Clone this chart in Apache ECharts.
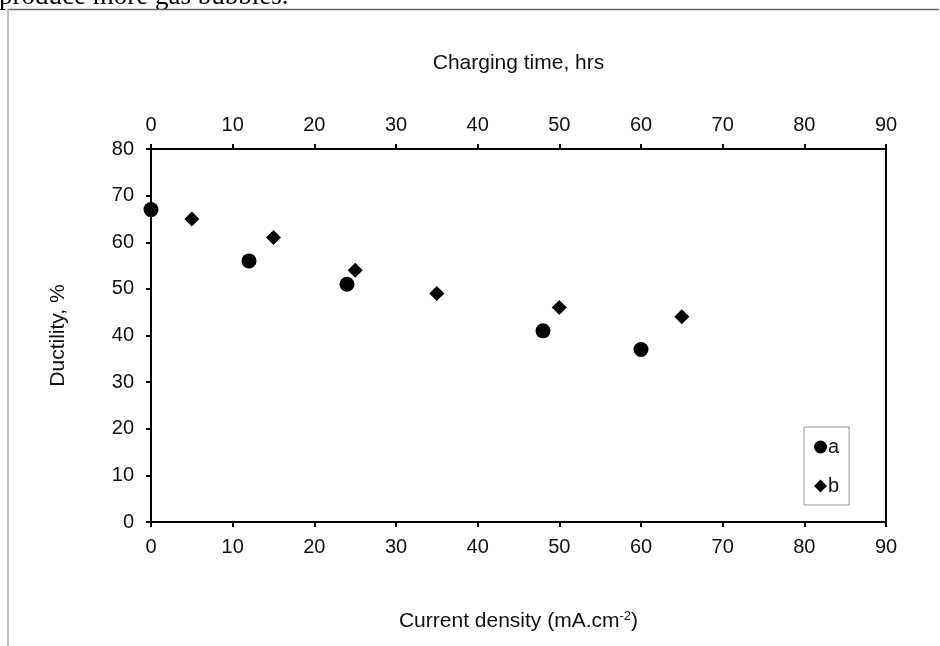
<!DOCTYPE html>
<html>
<head>
<meta charset="utf-8">
<script src="https://cdn.jsdelivr.net/npm/echarts@6/dist/echarts.min.js"></script>
<style>
  html, body { margin: 0; padding: 0; background: #fff; }
  #chart { width: 940px; height: 646px; }
</style>
</head>
<body>
<div id="chart"></div>
<script>
// 数据
const xTicks = [0, 10, 20, 30, 40, 50, 60, 70, 80, 90];
const yTicks = [0, 10, 20, 30, 40, 50, 60, 70, 80];
const densityA = [0, 12, 24, 48, 60]; // 电流密度 mA.cm-2
const ductilityA = [67, 56, 51, 41, 37];
const timeB = [5, 15, 25, 35, 50, 65]; // 充氢时间 hrs
const ductilityB = [65, 61, 54, 49, 46, 44];

const font = 'Liberation Sans, Arial, sans-serif';
const labelStyle = { color: '#111', fontSize: 20, fontFamily: font };
const titleStyle = { fontSize: 21, fontFamily: font, color: '#111' };

const chartInstance = echarts.init(document.getElementById('chart'));

const option = {
  animation: false,
  backgroundColor: '#fff',
  graphic: [
    { type: 'line', shape: { x1: 8, y1: 9.5, x2: 939, y2: 9.5 }, style: { stroke: '#666', lineWidth: 1.5 } },
    { type: 'line', shape: { x1: 8, y1: 9, x2: 8, y2: 646 }, style: { stroke: '#aaa', lineWidth: 1.5 } },
    {
      type: 'text', left: -1, top: -17, z: -1,
      style: { text: 'produce more gas bubbles.', font: '27px "Liberation Serif", "Times New Roman", serif', fill: '#000' }
    }
  ],
  grid: {
    left: 151, right: 54, top: 149, bottom: 124,
    show: true, borderColor: '#000', borderWidth: 2, backgroundColor: 'transparent'
  },
  legend: {
    orient: 'vertical',
    left: 804, top: 427,
    padding: [10, 10, 9, 10],
    itemGap: 19,
    itemWidth: 13, itemHeight: 13,
    borderColor: '#999', borderWidth: 1,
    textStyle: { color: '#111', fontSize: 20, fontFamily: font, padding: [0, 0, 0, -4] },
    data: [{ name: 'a', icon: 'circle' }, { name: 'b', icon: 'diamond' }]
  },
  xAxis: [
    {
      type: 'value', position: 'bottom', min: 0, max: 90, interval: 10,
      name: '{t|Current density (mA.cm}{s|-2}{t|)}',
      nameLocation: 'middle', nameGap: 88,
      nameTextStyle: {
        rich: {
          t: titleStyle,
          s: { fontSize: 13, fontFamily: font, color: '#111', verticalAlign: 'top', padding: [0, 0, 10, 0] }
        }
      },
      axisLine: { show: true, onZero: false, lineStyle: { color: '#000', width: 2 } },
      axisTick: { show: true, length: 5, lineStyle: { color: '#000', width: 2 } },
      axisLabel: Object.assign({ margin: 15 }, labelStyle),
      splitLine: { show: false }
    },
    {
      type: 'value', position: 'top', min: 0, max: 90, interval: 10,
      name: 'Charging time, hrs',
      nameLocation: 'middle', nameGap: 75,
      nameTextStyle: titleStyle,
      axisLine: { show: true, onZero: false, lineStyle: { color: '#000', width: 2 } },
      axisTick: { show: true, length: 5, lineStyle: { color: '#000', width: 2 } },
      axisLabel: Object.assign({ margin: 14 }, labelStyle),
      splitLine: { show: false }
    },
    {
      // 顶部刻度的内侧部分
      type: 'value', position: 'top', min: 0, max: 90, interval: 10,
      axisLine: { show: false },
      axisTick: { show: true, inside: true, length: 5, lineStyle: { color: '#000', width: 2 } },
      axisLabel: { show: false },
      splitLine: { show: false }
    }
  ],
  yAxis: {
    type: 'value', min: 0, max: 80, interval: 10,
    name: 'Ductility, %',
    nameLocation: 'middle', nameGap: 82,
    nameTextStyle: titleStyle,
    axisLine: { show: true, onZero: false, lineStyle: { color: '#000', width: 2 } },
    axisTick: { show: true, length: 5, lineStyle: { color: '#000', width: 2 } },
    axisLabel: Object.assign({ margin: 17 }, labelStyle),
    splitLine: { show: false }
  },
  series: [
    {
      name: 'a', type: 'scatter', xAxisIndex: 0,
      symbol: 'circle', symbolSize: 15,
      itemStyle: { color: '#000', opacity: 1 },
      data: densityA.map((x, i) => [x, ductilityA[i]])
    },
    {
      name: 'b', type: 'scatter', xAxisIndex: 1,
      symbol: 'diamond', symbolSize: 15,
      itemStyle: { color: '#000', opacity: 1 },
      data: timeB.map((x, i) => [x, ductilityB[i]])
    }
  ]
};

chartInstance.setOption(option);
</script>
</body>
</html>
